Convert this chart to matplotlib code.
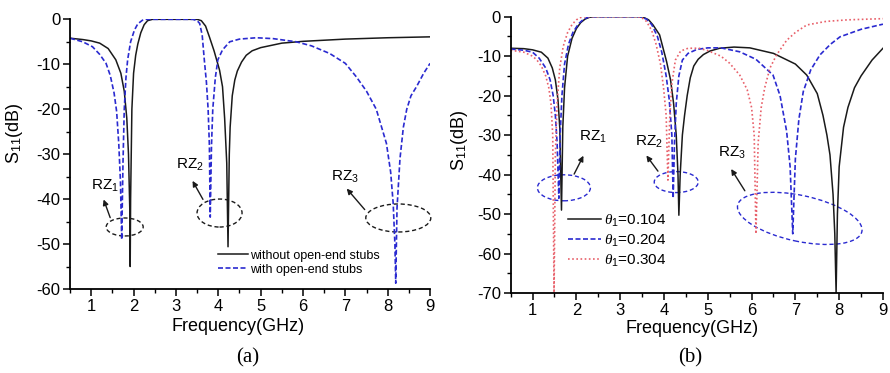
import matplotlib
matplotlib.use("Agg")
import matplotlib.pyplot as plt
from matplotlib.patches import Ellipse
from matplotlib.transforms import ScaledTranslation

plt.rcParams['font.family'] = ['Liberation Sans', 'DejaVu Sans']
plt.rcParams['axes.unicode_minus'] = False
plt.rcParams['mathtext.fontset'] = 'custom'
plt.rcParams['mathtext.rm'] = 'Liberation Sans'
plt.rcParams['mathtext.it'] = 'Liberation Serif:italic'

# ---- panel (a) ----
fa_wo = [0.5, 0.8, 1.0, 1.2, 1.4, 1.58, 1.7, 1.78, 1.84, 1.88, 1.91, 1.92, 1.93, 1.96, 2.0,
         2.05, 2.1, 2.17, 2.25, 2.33, 2.45, 3.5, 3.6, 3.7, 3.79, 3.9, 4.03, 4.1, 4.15, 4.2,
         4.23, 4.26, 4.28, 4.33, 4.39, 4.45, 4.55, 4.66, 4.8, 5.0, 5.5, 6.0, 7.0, 8.0, 9.0]
sa_wo = [-4.2, -4.5, -4.8, -5.3, -6.5, -9, -12, -16, -22, -30, -42, -55, -40, -20, -12,
         -8, -5.5, -3.0, -1.2, -0.3, 0, 0, -0.3, -1.5, -3.9, -7, -11.3, -15, -22, -32,
         -50.6, -30, -24, -17, -13.5, -11.5, -9.5, -8.0, -7.0, -6.3, -5.3, -4.9, -4.4, -4.1, -3.9]

fa_w = [0.5, 0.8, 1.03, 1.2, 1.35, 1.45, 1.54, 1.6, 1.65, 1.69, 1.72, 1.75, 1.78, 1.82, 1.86,
        1.93, 2.02, 2.1, 2.21, 2.3, 3.4, 3.5, 3.56, 3.62, 3.67, 3.72, 3.76, 3.79, 3.81, 3.84,
        3.87, 3.93, 3.99, 4.1, 4.27, 4.5, 4.9, 5.3, 5.84, 6.2, 6.63, 7.0, 7.26, 7.5, 7.73,
        7.97, 8.07, 8.13, 8.17, 8.19, 8.22, 8.29, 8.37, 8.45, 8.55, 8.68, 8.85, 9.0]
sa_w = [-4.2, -5.0, -6.1, -7.8, -9.8, -12.5, -16.4, -20.5, -27.6, -36, -49, -32, -20, -13, -9,
        -5, -2.4, -1.0, -0.2, 0, 0, -0.3, -0.9, -3.5, -9, -14, -20, -28, -44, -28,
        -20, -13, -9, -6.8, -5.0, -4.4, -4.1, -4.3, -5.0, -5.9, -7.6, -9.8, -12.8, -16, -20,
        -27.6, -34, -41, -50, -58.7, -42, -31, -24, -20, -17, -15, -12, -9.8]

# ---- panel (b) ----
fb_1 = [0.5, 0.8, 1.0, 1.2, 1.35, 1.45, 1.52, 1.58, 1.62, 1.66, 1.69, 1.73, 1.8, 1.9, 2.0,
        2.1, 2.2, 2.3, 2.4, 3.5, 3.65, 3.75, 3.9, 4.06, 4.15, 4.22, 4.28, 4.32, 4.34, 4.37,
        4.42, 4.47, 4.53, 4.6, 4.68, 4.78, 4.9, 5.05, 5.27, 5.6, 5.96, 6.5, 7.0, 7.26, 7.5,
        7.63, 7.72, 7.79, 7.86, 7.9, 7.93, 7.96, 8.0, 8.1, 8.2, 8.35, 8.5, 8.75, 9.0]
sb_1 = [-8.0, -8.1, -8.4, -9.0, -10.5, -13, -16, -21, -28, -49, -28, -18, -10, -5.5, -3,
        -1.5, -0.6, -0.15, 0, 0, -0.8, -2.1, -4.6, -11.4, -16, -22, -30, -40, -50.3, -40,
        -30, -25, -20, -15.5, -12.5, -10.8, -9.6, -8.7, -8, -7.7, -7.9, -9.3, -12, -14.8, -19.5,
        -25, -30, -35, -45, -55, -70, -50, -38, -28, -23, -18, -15, -11, -8.0]

fb_2 = [0.5, 0.8, 1.0, 1.15, 1.3, 1.4, 1.47, 1.52, 1.56, 1.6, 1.63, 1.67, 1.73, 1.82, 1.92,
        2.05, 2.15, 2.25, 2.35, 3.45, 3.6, 3.72, 3.85, 3.95, 4.05, 4.12, 4.18, 4.21, 4.24,
        4.28, 4.34, 4.42, 4.55, 4.75, 5.0, 5.3, 5.73, 6.1, 6.49, 6.65, 6.8, 6.88, 6.94, 7.0,
        7.08, 7.18, 7.35, 7.56, 7.8, 8.02, 8.5, 9.0]
sb_2 = [-8.2, -8.5, -9, -10.5, -13, -16, -20, -25, -32, -46, -30, -20, -12, -7, -4,
        -1.8, -0.8, -0.2, 0, 0, -0.6, -2, -5, -9, -15, -21, -30, -46, -32,
        -22, -15, -11, -9.3, -8.3, -7.9, -7.9, -8.9, -10.8, -14.8, -20, -29, -38, -55, -36,
        -26, -19, -13.5, -9.7, -7, -5.1, -3.2, -1.9]

fb_3 = [0.5, 0.8, 1.0, 1.1, 1.2, 1.3, 1.37, 1.42, 1.46, 1.49, 1.52, 1.56, 1.62, 1.7, 1.8,
        1.9, 2.0, 2.1, 2.2, 3.4, 3.5, 3.6, 3.72, 3.82, 3.92, 3.99, 4.05, 4.09, 4.13, 4.18,
        4.26, 4.38, 4.55, 4.8, 5.0, 5.3, 5.5, 5.73, 5.9, 6.0, 6.06, 6.10, 6.15, 6.22, 6.3,
        6.42, 6.57, 6.8, 7.0, 7.26, 7.7, 8.2, 9.0]
sb_3 = [-8.5, -9.0, -10, -11, -12.5, -15, -18, -22, -30, -70, -35, -22, -13, -7.5, -4,
        -2, -0.8, -0.2, 0, 0, -0.3, -1.2, -3.5, -7, -12, -18, -25, -41.4, -26, -17,
        -11, -8.7, -8.0, -8.0, -8.6, -10, -11.8, -14.8, -18.5, -23, -30, -55, -32, -23, -18,
        -13, -9.7, -6, -4, -2.1, -1.2, -0.8, -0.5]

BLACK = '#1a1a1a'
BLUE = '#2a2ad0'
RED = '#e8606a'


def ring(ax, cx, cy, w, h, color, angle=0):
    # ellipse sized in pixels, centred on a data point
    tr = ax.figure.dpi_scale_trans + ScaledTranslation(cx, cy, ax.transData)
    ax.add_patch(Ellipse((0, 0), w / 100, h / 100, angle=angle, transform=tr,
                         fill=False, ls=(0, (3, 2)), lw=1.0, ec=color, clip_on=False))


def tag(ax, text, tx, ty, tail, tip):
    ax.text(tx, ty, text, fontsize=11, ha='left', va='center')
    ax.annotate('', xy=tip, xytext=tail,
                arrowprops=dict(arrowstyle='-|>', color=BLACK, lw=1.0, mutation_scale=8))


def style(ax, ymin, yticks):
    ax.set_xlim(0.5, 9)
    ax.set_ylim(ymin, 0)
    ax.set_xticks(range(1, 10))
    ax.set_xticks([x + 0.5 for x in range(0, 9)], minor=True)
    ax.set_yticks(yticks)
    ax.set_yticks([y - 5 for y in yticks if y - 5 >= ymin], minor=True)
    ax.spines['top'].set_visible(False)
    ax.spines['right'].set_visible(False)
    ax.spines['left'].set_linewidth(1.3)
    ax.spines['bottom'].set_linewidth(1.3)
    ax.tick_params(which='major', direction='out', length=5, width=1.1, labelsize=12, pad=2)
    ax.tick_params(which='minor', direction='out', length=3, width=1.0)


fig = plt.figure(figsize=(8.9, 3.73), dpi=100)
ax1 = fig.add_axes([0.0787, 0.2252, 0.4045, 0.723])
ax2 = fig.add_axes([0.5738, 0.2145, 0.4183, 0.7408])

ax1.plot(fa_wo, sa_wo, color=BLACK, lw=1.1, label='without open-end stubs')
ax1.plot(fa_w, sa_w, color=BLUE, lw=1.2, ls=(0, (3, 1.5)), label='with open-end stubs')
style(ax1, -60, list(range(-60, 1, 10)))
ax1.legend(frameon=False, loc='center left', bbox_to_anchor=(0.41, 0.098), fontsize=9,
           handlelength=2.4, handletextpad=0.15, labelspacing=0.15, borderpad=0, borderaxespad=0)
ring(ax1, 1.79, -46.2, 37, 18, BLACK)
ring(ax1, 4.03, -43.1, 45, 28, BLACK)
ring(ax1, 8.25, -44.2, 65, 28, BLACK)
tag(ax1, 'RZ$_1$', 1.0, -37.0, (1.47, -44.7), (1.27, -39.5))
tag(ax1, 'RZ$_2$', 3.0, -32.5, (3.67, -40.6), (3.36, -35.4))
tag(ax1, 'RZ$_3$', 6.67, -35.0, (7.5, -42.8), (6.99, -37.2))
ax1.set_xlabel('Frequency(GHz)', fontsize=13)
ax1.set_ylabel('S$_{11}$(dB)', fontsize=13)
ax1.xaxis.set_label_coords(0.467, -0.108)
ax1.yaxis.set_label_coords(-0.125, 0.578)

ax2.plot(fb_1, sb_1, color=BLACK, lw=1.1, label=r'$\theta_1$=0.104')
ax2.plot(fb_2, sb_2, color=BLUE, lw=1.2, ls=(0, (3, 1.5)), label=r'$\theta_1$=0.204')
ax2.plot(fb_3, sb_3, color=RED, lw=1.2, ls=(0, (1, 1.5)), label=r'$\theta_1$=0.304')
style(ax2, -70, list(range(-70, 1, 10)))
ax2.legend(frameon=False, loc='center left', bbox_to_anchor=(0.153, 0.189), fontsize=11,
           handlelength=2.2, handletextpad=0.15, labelspacing=0.25, borderpad=0, borderaxespad=0)
ring(ax2, 1.715, -43.35, 53, 26, BLUE)
ring(ax2, 4.28, -41.9, 44, 21, BLUE)
ring(ax2, 7.10, -51.1, 127, 46, BLUE, angle=-12)
tag(ax2, 'RZ$_1$', 2.07, -30.4, (1.92, -40.5), (2.19, -34.6))
tag(ax2, 'RZ$_2$', 3.33, -31.7, (3.90, -39.7), (3.56, -34.6))
tag(ax2, 'RZ$_3$', 5.24, -34.6, (5.88, -44.7), (5.50, -38.0))
ax2.set_xlabel('Frequency(GHz)', fontsize=13)
ax2.set_ylabel('S$_{11}$(dB)', fontsize=13)
ax2.xaxis.set_label_coords(0.488, -0.098)
ax2.yaxis.set_label_coords(-0.109, 0.554)

fig.text(248 / 890, 1 - 358 / 373, '(a)', family='Liberation Serif', fontsize=15,
         ha='center', va='center')
fig.text(690 / 890, 1 - 358 / 373, '(b)', family='Liberation Serif', fontsize=15,
         ha='center', va='center')

fig.savefig('out.png', dpi=100)
